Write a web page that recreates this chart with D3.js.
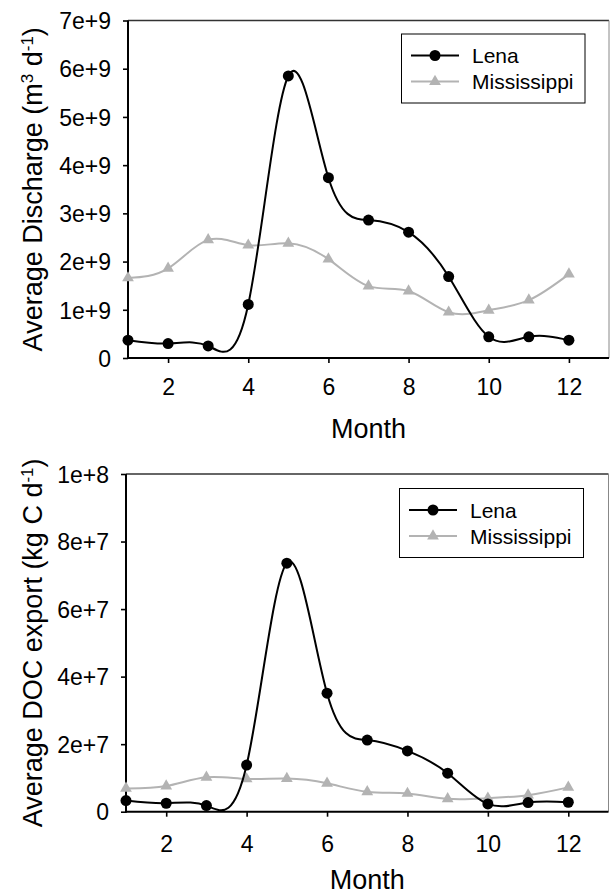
<!DOCTYPE html>
<html>
<head>
<meta charset="utf-8">
<title>Lena vs Mississippi</title>
<script src="https://cdn.jsdelivr.net/npm/d3@7"></script>
<style>
    body { margin: 0; background: #fff; }
    text { font-family: "Liberation Sans", Arial, sans-serif; fill: #000; }
</style>
</head>
<body>
<script>
    // months on the x axis
    var months = [1, 2, 3, 4, 5, 6, 7, 8, 9, 10, 11, 12];
    var xTicks = [2, 4, 6, 8, 10, 12];

    // discharge, m3 per day
    var lenaDischarge = [0.37e9, 0.30e9, 0.25e9, 1.11e9, 5.85e9, 3.74e9, 2.86e9, 2.61e9, 1.69e9, 0.44e9, 0.44e9, 0.37e9];
    var missDischarge = [1.66e9, 1.86e9, 2.45e9, 2.34e9, 2.38e9, 2.05e9, 1.49e9, 1.39e9, 0.95e9, 0.99e9, 1.20e9, 1.74e9];
    var dischargeTicks = [0, 1e9, 2e9, 3e9, 4e9, 5e9, 6e9, 7e9];
    var dischargeLabels = ["0", "1e+9", "2e+9", "3e+9", "4e+9", "5e+9", "6e+9", "7e+9"];

    // DOC export, kg C per day
    var lenaDoc = [3.3e6, 2.5e6, 1.8e6, 13.8e6, 73.6e6, 35.1e6, 21.2e6, 18.0e6, 11.4e6, 2.3e6, 2.7e6, 2.8e6];
    var missDoc = [6.9e6, 7.6e6, 10.2e6, 9.7e6, 9.8e6, 8.4e6, 5.9e6, 5.4e6, 3.8e6, 4.0e6, 4.9e6, 7.2e6];
    var docTicks = [0, 2e7, 4e7, 6e7, 8e7, 1e8];
    var docLabels = ["0", "2e+7", "4e+7", "6e+7", "8e+7", "1e+8"];

    var seriesNames = ["Lena", "Mississippi"];
    var seriesColors = ["#000000", "#b3b3b3"];

    var svg = d3.select("body").append("svg")
        .attr("width", 610)
        .attr("height", 894);

    // one panel per variable
    var panels = [
        {
            left: 128, right: 609, top: 20.5, bottom: 358,
            max: 7e9, ticks: dischargeTicks, labels: dischargeLabels,
            data: [lenaDischarge, missDischarge],
            title: ["Average Discharge (m", "3", " d", "-1", ")"],
            tickY: 37, monthY: 438,
            legend: { x: 401.5, y: 34, w: 183.5, h: 69 }
        },
        {
            left: 126, right: 608.5, top: 474, bottom: 811.7,
            max: 1e8, ticks: docTicks, labels: docLabels,
            data: [lenaDoc, missDoc],
            title: ["Average DOC export (kg C d", "-1", ")"],
            tickY: 40, monthY: 889,
            legend: { x: 399.5, y: 488.5, w: 184, h: 69 }
        }
    ];

    panels.forEach(function(p) {
        var x = d3.scaleLinear().domain([1, 13]).range([p.left, p.right]);
        var y = d3.scaleLinear().domain([0, p.max]).range([p.bottom, p.top]);

        var g = svg.append("g");

        // frame: thin top and right
        g.append("line")
            .attr("x1", p.left).attr("x2", p.right)
            .attr("y1", p.top).attr("y2", p.top)
            .attr("stroke", "#333").attr("stroke-width", 1.3);
        g.append("line")
            .attr("x1", p.right).attr("x2", p.right)
            .attr("y1", p.top).attr("y2", p.bottom)
            .attr("stroke", "#888").attr("stroke-width", 1);

        // x axis
        var xAxis = g.append("g")
            .attr("transform", "translate(0," + p.bottom + ")")
            .call(d3.axisBottom(x).tickValues(xTicks).tickSizeOuter(0).tickSize(5));
        xAxis.select(".domain")
            .attr("d", "M" + (p.left - 1) + ",0H" + p.right)
            .attr("stroke-width", 2);
        xAxis.selectAll(".tick line").attr("stroke-width", 1.6);
        xAxis.selectAll(".tick text")
            .attr("y", p.tickY).attr("dy", 0)
            .style("font-size", "23px");

        // y axis
        var yAxis = g.append("g")
            .attr("transform", "translate(" + p.left + ",0)")
            .call(d3.axisLeft(y).tickValues(p.ticks)
                .tickFormat(function(d, i) { return p.labels[i]; })
                .tickSizeOuter(0).tickSize(5).tickPadding(12));
        yAxis.select(".domain")
            .attr("d", "M0," + p.top + "V" + (p.bottom + 1))
            .attr("stroke-width", 2);
        yAxis.selectAll(".tick line").attr("stroke-width", 1.6);
        yAxis.selectAll(".tick text")
            .attr("dy", "0.36em")
            .style("font-size", "23px");

        // lines
        var line = d3.line()
            .x(function(d, i) { return x(months[i]); })
            .y(function(d) { return y(d); })
            .curve(d3.curveNatural);

        // Mississippi first, Lena on top
        [1, 0].forEach(function(s) {
            g.append("path")
                .datum(p.data[s])
                .attr("d", line)
                .attr("fill", "none")
                .attr("stroke", seriesColors[s])
                .attr("stroke-width", 2);

            if (s === 0) {
                g.selectAll(".dot")
                    .data(p.data[s])
                    .enter().append("circle")
                    .attr("cx", function(d, i) { return x(months[i]); })
                    .attr("cy", function(d) { return y(d); })
                    .attr("r", 5.5)
                    .attr("fill", seriesColors[s]);
            } else {
                g.selectAll(".tri")
                    .data(p.data[s])
                    .enter().append("path")
                    .attr("class", "tri")
                    .attr("transform", function(d, i) {
                        return "translate(" + x(months[i]) + "," + y(d) + ")";
                    })
                    .attr("d", d3.symbol().type(d3.symbolTriangle).size(60))
                    .attr("fill", seriesColors[s]);
            }
        });

        // x title
        g.append("text")
            .attr("x", (p.left + p.right) / 2)
            .attr("y", p.monthY)
            .attr("text-anchor", "middle")
            .style("font-size", "27px")
            .text("Month");

        // y title with superscripts
        var yt = g.append("text")
            .attr("transform", "translate(42," + (p.top + p.bottom) / 2 + ") rotate(-90)")
            .attr("text-anchor", "middle")
            .style("font-size", "27px");
        p.title.forEach(function(t, i) {
            var sup = (i % 2 === 1);
            yt.append("tspan")
                .attr("baseline-shift", sup ? "55%" : null)
                .style("font-size", sup ? "17px" : null)
                .text(t);
        });

        // legend
        var lg = g.append("g").attr("transform", "translate(" + p.legend.x + "," + p.legend.y + ")");
        lg.append("rect")
            .attr("width", p.legend.w).attr("height", p.legend.h)
            .attr("fill", "#fff").attr("stroke", "#000").attr("stroke-width", 1);
        seriesNames.forEach(function(name, i) {
            var cy = 21.5 + i * 26;
            lg.append("line")
                .attr("x1", 9.5).attr("x2", 57.5)
                .attr("y1", cy).attr("y2", cy)
                .attr("stroke", seriesColors[i]).attr("stroke-width", 2);
            if (i === 0) {
                lg.append("circle").attr("cx", 33.5).attr("cy", cy).attr("r", 5.5).attr("fill", seriesColors[i]);
            } else {
                lg.append("path")
                    .attr("transform", "translate(33.5," + cy + ")")
                    .attr("d", d3.symbol().type(d3.symbolTriangle).size(60))
                    .attr("fill", seriesColors[i]);
            }
            lg.append("text")
                .attr("x", 70.5)
                .attr("y", cy)
                .attr("dy", "0.36em")
                .style("font-size", "21px")
                .text(name);
        });
    });
</script>
</body>
</html>
